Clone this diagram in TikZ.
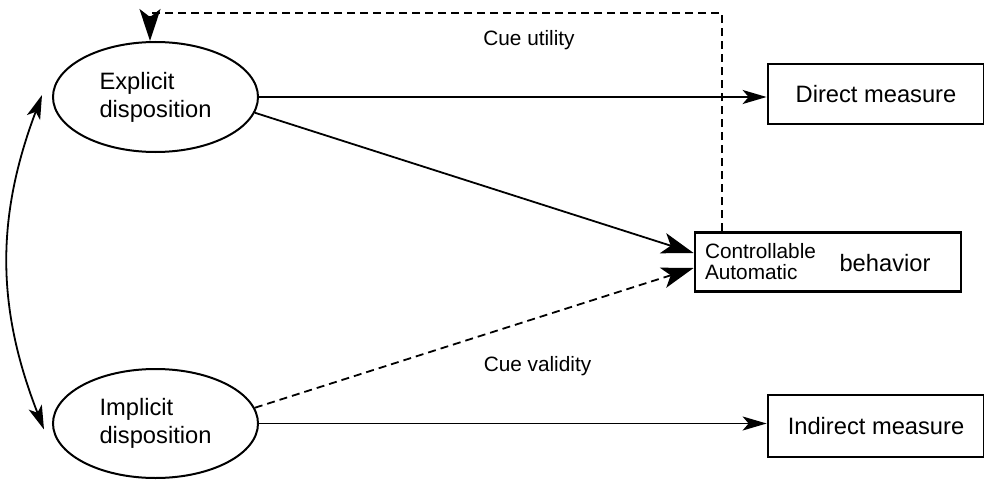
\documentclass[tikz,border=0pt]{standalone}
\usepackage{fontspec}
\setmainfont{Liberation Sans}
\usetikzlibrary{positioning,arrows.meta,shapes.geometric}

\begin{document}
\begin{tikzpicture}[x=0.5pt,y=-0.5pt,
        disp/.style={ellipse, draw, line width=1pt, minimum width=102.5pt, minimum height=55pt,
            inner sep=0pt, align=left, font=\fontsize{11.85}{14}\selectfont},
        meas/.style={rectangle, draw, line width=1.4pt, minimum width=108pt, minimum height=30pt,
            inner sep=0pt, font=\fontsize{11.85}{14}\selectfont},
        lab/.style={inner sep=0pt, font=\fontsize{10.4}{10.5}\selectfont},
        arr/.style={-{Stealth[length=12pt,width=7pt,inset=3pt]}, line width=0.9pt},
        bigarr/.style={-{Stealth[length=16pt,width=10.5pt,inset=4pt]}, line width=0.9pt},
        dashline/.style={dash pattern=on 4pt off 2.5pt}]
        \useasboundingbox (0,0) rectangle (984,481);
        % Disposições (elipses)
        \node[disp] (explicit) at (155.5,97) {Explicit\\disposition};
        \node[disp, minimum height=54.5pt] (implicit) at (155.5,423.5) {Implicit\\disposition};
        % Medidas e comportamento (caixas)
        \node[meas] (direct) at (876,94) {Direct measure};
        \node[meas, minimum height=31pt] (indirect) at (876,426) {Indirect measure};
        \node[meas, minimum width=133pt, minimum height=29.5pt] (behavior) at (828,262) {};
        \node[lab, align=left, anchor=west] (modes) at ([xshift=5.5pt]behavior.west) {Controllable\\Automatic};
        \node[inner sep=0pt, font=\fontsize{11.85}{14}\selectfont] (behtext) at (885,263) {behavior};
        % Rótulos
        \node[lab] (utility) at (529,40) {Cue utility};
        \node[lab] (validity) at (537.5,366) {Cue validity};
        % Setas
        \draw[arr] (explicit.east) -- (explicit.east -| direct.west);
        \draw[arr] (implicit.east) -- (implicit.east -| indirect.west);
        \draw[bigarr] (explicit.-9) -- ([yshift=4.5pt]behavior.west);
        \draw[bigarr, dashline] (implicit.9) -- ([yshift=-3pt]behavior.west);
        % Retorno tracejado
        \coordinate (loopstart) at (722,13);
        \coordinate (loopend) at (150,13);
        \draw[bigarr, dashline] (loopstart |- behavior.north) -- (loopstart) -- (loopend) -- (loopend |- explicit.north);
        % Correlação
        \draw[arr, {Stealth[length=12pt,width=7pt,inset=3pt]}-{Stealth[length=12pt,width=7pt,inset=3pt]}]
            ([shift={(-5pt,1pt)}]explicit.west) to[bend right=21] ([shift={(-4pt,-3pt)}]implicit.west);
    \end{tikzpicture}
\end{document}
